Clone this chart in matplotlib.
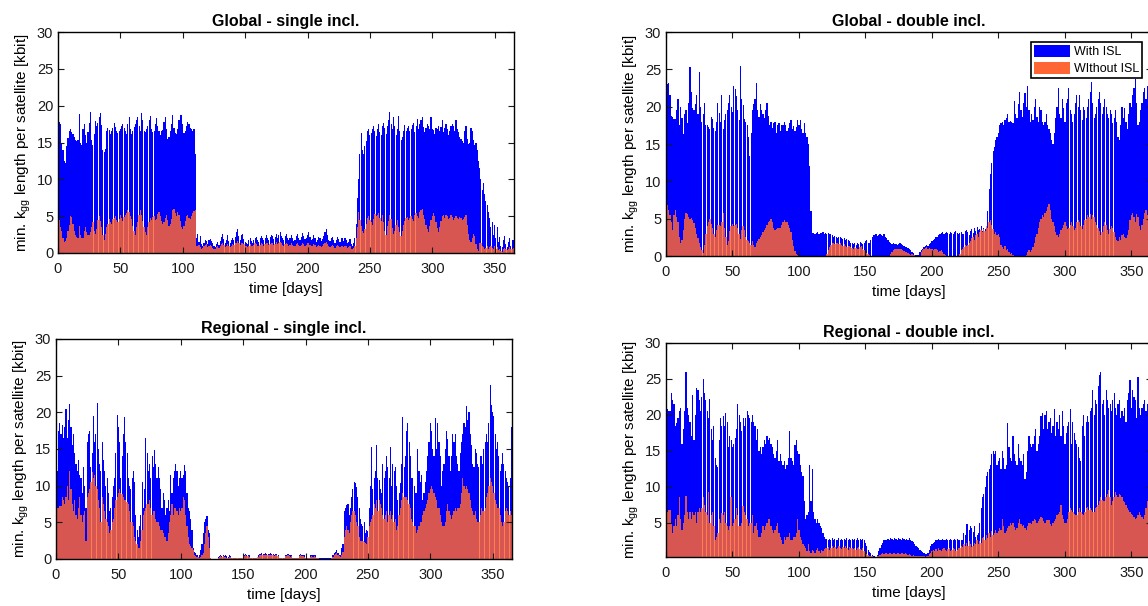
"""Minimum k_gg length per satellite, with and without ISL"""

import numpy as np
import matplotlib
matplotlib.use('Agg')
import matplotlib.pyplot as plt
from matplotlib.patches import Patch

plt.rcParams['font.family'] = ['Liberation Sans', 'DejaVu Sans']
plt.rcParams['mathtext.fontset'] = 'custom'
plt.rcParams['mathtext.rm'] = 'Liberation Sans'
plt.rcParams['mathtext.it'] = 'Liberation Sans:italic'

# ___ data (kbit per day) ___
days = np.arange(1, 366)

global_single_with = [
    17.8, 17.5, 15.0, 14.0, 12.5, 12.2, 14.5, 15.6, 16.6, 16.9,
    16.4, 16.1, 15.8, 15.4, 15.2, 15.3, 18.9, 15.0, 14.6, 16.8,
    17.5, 16.0, 14.9, 16.4, 17.6, 19.1, 15.4, 14.7, 16.1, 17.9,
    17.2, 17.6, 18.5, 19.0, 17.4, 14.0, 13.7, 14.1, 16.5, 17.0,
    16.7, 16.2, 16.5, 17.0, 17.6, 17.1, 16.6, 16.3, 16.5, 16.9,
    17.3, 17.5, 17.0, 16.5, 16.2, 17.5, 18.5, 16.8, 16.2, 16.5,
    17.1, 17.5, 18.0, 18.4, 17.3, 16.5, 19.0, 18.0, 16.5, 16.4,
    16.9, 17.3, 18.0, 18.6, 16.8, 16.4, 16.6, 17.5, 18.3, 17.2,
    16.5, 16.0, 16.5, 16.7, 17.8, 18.4, 16.8, 15.5, 15.8, 16.5,
    17.5, 18.8, 17.0, 16.3, 16.2, 16.8, 18.0, 18.8, 18.8, 17.5,
    16.3, 16.5, 17.2, 17.8, 17.5, 17.0, 16.8, 16.6, 16.8, 13.5,
    2.0, 2.6, 1.5, 2.3, 1.2, 1.0, 1.4, 1.8, 1.6, 1.2,
    1.7, 1.9, 1.6, 1.3, 1.0, 0.8, 1.2, 1.5, 1.1, 1.6,
    2.2, 2.6, 1.9, 1.4, 1.8, 2.4, 1.6, 1.3, 1.7, 2.0,
    1.8, 2.2, 2.8, 3.3, 2.3, 1.7, 2.4, 2.6, 1.9, 1.5,
    1.4, 1.2, 1.8, 2.1, 1.6, 1.3, 1.7, 2.0, 2.2, 1.8,
    1.5, 2.0, 2.3, 2.0, 1.7, 2.1, 2.4, 2.1, 1.8, 2.2,
    2.5, 2.3, 1.9, 2.2, 2.6, 2.0, 2.4, 2.8, 2.3, 2.0,
    1.8, 2.3, 2.6, 2.1, 1.7, 2.0, 2.4, 2.0, 1.6, 1.8,
    2.3, 2.6, 2.0, 1.7, 2.2, 2.7, 2.3, 1.9, 2.1, 2.5,
    2.8, 2.2, 1.7, 1.9, 2.4, 2.1, 1.5, 1.8, 2.2, 2.0,
    1.6, 1.9, 2.3, 2.9, 3.2, 2.4, 1.8, 1.6, 2.0, 2.2,
    1.7, 1.4, 1.8, 2.2, 1.9, 1.5, 2.1, 2.0, 1.6, 2.1,
    1.8, 1.3, 1.5, 1.9, 1.2, 1.0, 1.4, 2.0, 4.0, 7.5,
    10.0, 13.5, 16.3, 14.0, 13.5, 14.5, 15.2, 16.5, 16.9, 16.0,
    16.3, 16.8, 17.2, 16.5, 15.9, 16.8, 17.5, 16.4, 16.0, 17.2,
    17.6, 17.0, 16.2, 17.2, 18.0, 19.1, 17.5, 16.8, 18.5, 17.2,
    16.0, 16.8, 18.6, 16.5, 15.4, 15.8, 16.5, 17.4, 16.6, 17.0,
    17.3, 16.5, 16.8, 17.4, 17.6, 16.4, 17.3, 18.2, 16.8, 17.5,
    18.1, 18.5, 17.1, 16.4, 17.0, 17.5, 17.2, 16.8, 18.5, 16.9,
    16.7, 16.2, 17.0, 16.8, 17.3, 16.5, 17.1, 18.0, 16.4, 17.0,
    17.5, 16.8, 16.0, 16.5, 17.2, 17.5, 17.2, 16.6, 18.0, 16.8,
    16.4, 15.8, 15.5, 15.2, 15.0, 16.5, 17.2, 15.5, 14.8, 15.0,
    17.0, 16.5, 15.3, 14.7, 15.0, 14.0, 12.5, 11.5, 10.0, 8.5,
    9.5, 8.0, 7.0, 6.5, 5.5, 4.8, 3.5, 4.2, 2.5, 3.8,
    2.0, 3.5, 1.5, 2.2, 1.0, 0.8, 1.8, 2.3, 1.2, 0.8,
    1.5, 2.0, 1.0, 1.7, 1.8,
]

global_single_without = [
    4.5, 3.5, 3.0, 2.0, 1.5, 1.6, 2.0, 3.0, 3.8, 5.0,
    4.9, 4.0, 3.0, 2.4, 2.2, 2.1, 3.7, 2.5, 2.0, 2.0,
    3.0, 3.5, 2.8, 2.4, 2.5, 2.9, 3.5, 4.2, 3.0, 2.6,
    3.2, 4.5, 5.0, 4.4, 3.5, 2.5, 1.8, 2.6, 3.5, 4.0,
    4.6, 4.2, 4.0, 4.6, 4.8, 5.0, 4.5, 4.2, 4.6, 5.2,
    4.7, 4.4, 4.9, 5.2, 5.4, 5.8, 5.5, 5.0, 4.6, 3.6,
    3.0, 2.4, 3.5, 4.2, 5.2, 5.9, 5.2, 4.4, 3.5, 2.8,
    2.5, 3.5, 4.2, 4.7, 4.5, 4.9, 5.0, 4.5, 4.6, 5.3,
    5.5, 5.0, 4.4, 3.9, 4.2, 4.8, 5.1, 4.5, 3.6, 3.9,
    4.6, 5.8, 6.0, 5.4, 5.0, 5.6, 5.2, 4.4, 3.5, 3.2,
    3.6, 4.4, 5.0, 5.2, 4.8, 4.6, 5.0, 5.4, 5.7, 5.9,
    1.0, 0.9, 1.1, 0.8, 0.6, 0.7, 0.9, 1.1, 1.2, 0.8,
    0.9, 1.1, 1.0, 0.7, 0.5, 0.5, 0.8, 1.0, 0.7, 0.9,
    1.2, 1.3, 1.1, 0.8, 1.0, 1.2, 0.9, 0.8, 1.0, 1.2,
    1.1, 1.3, 1.4, 1.6, 1.3, 1.1, 1.3, 1.4, 1.2, 1.0,
    0.9, 0.8, 1.0, 1.2, 1.0, 0.9, 1.1, 1.3, 1.2, 1.0,
    0.9, 1.1, 1.3, 1.2, 1.0, 1.2, 1.4, 1.3, 1.1, 1.2,
    1.4, 1.3, 1.1, 1.2, 1.5, 1.2, 1.3, 1.5, 1.3, 1.1,
    1.0, 1.2, 1.4, 1.2, 1.0, 1.1, 1.3, 1.1, 0.9, 1.0,
    1.2, 1.4, 1.1, 0.9, 1.1, 1.3, 1.2, 1.0, 1.1, 1.3,
    1.4, 1.1, 0.9, 1.0, 1.2, 1.1, 0.8, 0.9, 1.1, 1.0,
    0.8, 1.0, 1.2, 1.4, 1.5, 1.2, 0.9, 0.8, 1.0, 1.1,
    0.9, 0.7, 0.9, 1.1, 1.0, 0.8, 1.0, 0.9, 0.8, 1.0,
    0.9, 0.7, 0.8, 0.9, 0.6, 0.5, 0.7, 1.0, 2.0, 3.5,
    5.5, 4.5, 3.6, 3.0, 2.7, 3.2, 4.0, 4.8, 5.0, 4.5,
    4.2, 3.8, 4.6, 5.3, 5.0, 5.2, 5.4, 4.8, 4.3, 5.1,
    4.2, 3.0, 2.5, 3.6, 4.4, 5.2, 4.6, 3.4, 2.6, 3.0,
    3.8, 4.5, 3.5, 2.8, 2.3, 3.0, 3.8, 4.4, 4.7, 4.9,
    4.5, 4.8, 5.0, 4.6, 4.3, 5.2, 5.4, 5.0, 4.7, 5.5,
    5.8, 6.0, 5.2, 4.6, 3.8, 3.2, 2.8, 3.6, 4.5, 5.0,
    5.4, 5.0, 4.2, 3.4, 2.9, 3.5, 4.4, 5.0, 5.1, 4.8,
    5.2, 5.0, 4.6, 4.8, 5.1, 4.9, 4.5, 4.7, 5.0, 4.8,
    4.6, 4.9, 4.8, 4.5, 4.6, 4.9, 5.1, 3.8, 2.6, 1.8,
    1.5, 2.0, 2.6, 2.3, 1.2, 0.5, 0.3, 1.3, 1.4, 1.0,
    0.8, 0.6, 0.7, 1.0, 0.6, 0.8, 1.0, 0.7, 0.5, 0.9,
    0.6, 0.8, 0.4, 0.6, 0.3, 0.2, 0.5, 0.7, 0.6, 0.4,
    0.5, 0.8, 0.5, 0.6, 0.7,
]

global_double_with = [
    23.0, 23.2, 21.5, 18.8, 18.6, 18.4, 18.3, 19.5, 21.0, 17.5,
    20.0, 18.5, 16.3, 19.0, 19.5, 17.8, 20.5, 25.3, 22.0, 19.8,
    19.6, 20.3, 21.5, 19.0, 24.7, 20.0, 18.0, 19.0, 20.5, 17.5,
    17.6, 17.3, 17.0, 18.6, 18.3, 17.1, 16.8, 18.0, 20.5, 19.2,
    18.0, 21.5, 17.0, 18.2, 19.0, 19.6, 20.5, 21.5, 20.0, 19.3,
    22.8, 22.3, 21.4, 19.5, 18.2, 25.4, 21.0, 20.2, 18.4, 18.0,
    17.5, 16.0, 13.4, 16.5, 19.5, 20.3, 21.0, 23.2, 19.5, 18.6,
    20.3, 19.6, 19.0, 18.5, 19.5, 20.5, 18.8, 17.6, 18.0, 17.2,
    17.8, 18.0, 16.5, 17.5, 17.8, 16.8, 17.5, 17.6, 18.0, 17.6,
    16.8, 17.2, 17.8, 18.2, 17.0, 17.4, 16.8, 17.3, 18.2, 17.6,
    18.2, 17.0, 16.5, 17.8, 16.5, 16.0, 15.0, 12.0, 6.0, 3.1,
    3.1, 3.0, 3.1, 3.2, 3.0, 3.1, 3.1, 3.2, 3.0, 3.1,
    3.0, 3.1, 2.9, 3.0, 2.8, 2.6, 2.7, 2.5, 2.4, 2.6,
    2.5, 2.4, 2.3, 2.4, 2.2, 2.3, 2.1, 2.0, 1.8, 1.7,
    1.6, 1.8, 1.5, 1.7, 1.6, 1.9, 1.8, 1.6, 1.7, 2.0,
    2.1, 1.8, 1.7, 2.2, 2.6, 2.8, 2.8, 2.9, 2.7, 2.8,
    2.9, 2.8, 2.7, 2.9, 2.6, 2.4, 2.2, 1.9, 1.7, 1.6,
    1.7, 1.6, 1.6, 1.5, 1.6, 1.7, 1.6, 1.5, 1.3, 1.2,
    1.2, 1.1, 0.9, 0.8, 0.6, 0.4, 0.2, 0.1, 0.1, 0.2,
    0.5, 0.8, 1.0, 1.2, 1.3, 1.5, 1.4, 1.6, 1.8, 2.0,
    2.1, 2.3, 2.5, 2.6, 2.8, 3.0, 3.1, 3.2, 3.0, 3.1,
    3.2, 3.1, 3.0, 3.2, 3.1, 3.0, 3.2, 3.3, 3.1, 3.0,
    3.1, 3.2, 3.0, 2.9, 3.3, 3.5, 3.2, 2.8, 3.4, 3.6,
    3.1, 3.7, 3.3, 3.9, 3.5, 3.6, 4.0, 3.4, 3.8, 3.6,
    3.8, 6.0, 9.0, 11.0, 12.5, 14.0, 14.6, 15.5, 16.0, 16.5,
    17.5, 17.8, 18.0, 17.6, 18.2, 18.5, 19.0, 17.9, 18.1, 18.0,
    17.8, 20.8, 19.0, 18.5, 20.3, 22.0, 19.5, 18.6, 20.5, 21.8,
    20.0, 22.8, 19.5, 18.0, 19.0, 18.2, 20.0, 21.0, 18.6, 18.0,
    20.0, 19.5, 18.0, 17.6, 18.0, 19.0, 17.5, 17.0, 16.5, 15.5,
    15.0, 16.5, 18.5, 20.0, 22.5, 19.0, 18.5, 21.0, 19.8, 18.0,
    20.5, 21.0, 22.5, 19.5, 19.0, 18.0, 19.0, 20.5, 21.5, 20.0,
    21.5, 19.5, 18.2, 20.0, 19.5, 18.5, 20.0, 21.0, 22.0, 23.3,
    20.5, 18.5, 19.0, 20.0, 21.0, 22.0, 20.5, 19.0, 20.0, 21.0,
    20.0, 19.0, 18.5, 19.5, 19.0, 17.8, 18.5, 19.5, 18.0, 16.0,
    15.5, 17.5, 20.0, 18.5, 19.8, 18.0, 17.0, 19.0, 20.5, 20.0,
    21.5, 22.5, 23.7, 20.5, 17.5, 18.0, 19.5, 20.5, 22.0, 22.5,
    21.0, 22.8, 21.5, 20.5, 22.0,
]

global_double_without = [
    6.8, 6.2, 5.5, 4.5, 3.5, 5.5, 6.2, 5.2, 4.5, 2.5,
    1.8, 2.2, 3.5, 5.0, 5.8, 5.6, 5.2, 5.0, 5.1, 4.8,
    4.4, 3.8, 3.0, 2.4, 1.8, 1.2, 0.8, 0.4, 1.5, 3.0,
    4.0, 4.5, 5.0, 4.3, 3.8, 3.0, 2.5, 3.5, 4.1, 4.2,
    4.0, 4.5, 5.7, 3.8, 2.5, 1.5, 2.0, 3.4, 4.0, 4.3,
    4.0, 4.2, 4.3, 3.7, 3.0, 2.3, 3.5, 4.0, 3.5, 2.6,
    2.2, 2.0, 1.8, 1.5, 2.0, 1.5, 1.2, 1.8, 2.0, 2.3,
    2.5, 2.8, 3.2, 3.5, 3.8, 4.2, 4.5, 4.7, 5.0, 4.5,
    3.8, 3.5, 3.6, 3.7, 3.8, 3.7, 4.2, 4.6, 4.8, 4.6,
    4.5, 4.2, 3.8, 3.2, 2.2, 1.4, 0.7, 0.3, 0.1, 0.0,
    0.0, 0.0, 0.0, 0.0, 0.0, 0.0, 0.0, 0.0, 0.0, 0.0,
    0.0, 0.0, 0.0, 0.0, 0.0, 0.0, 0.0, 0.0, 0.0, 0.0,
    0.3, 0.8, 1.2, 1.5, 1.7, 1.8, 1.6, 1.7, 1.8, 1.6,
    1.7, 1.5, 1.4, 1.6, 1.3, 1.2, 1.4, 1.3, 1.2, 1.1,
    1.0, 1.2, 1.1, 0.9, 1.0, 1.2, 1.3, 1.0, 0.8, 0.6,
    0.4, 0.3, 0.2, 0.0, 0.0, 0.0, 0.0, 0.0, 0.0, 0.0,
    0.0, 0.0, 0.0, 0.0, 0.0, 0.0, 0.0, 0.0, 0.3, 0.6,
    0.8, 0.9, 1.0, 1.0, 0.9, 1.0, 0.9, 0.8, 0.7, 0.6,
    0.5, 0.4, 0.3, 0.2, 0.3, 0.2, 0.1, 0.0, 0.0, 0.0,
    0.0, 0.6, 0.8, 1.0, 1.1, 1.2, 1.0, 1.1, 0.9, 1.0,
    0.8, 1.0, 0.9, 0.8, 0.6, 0.7, 0.8, 0.5, 0.3, 0.2,
    0.0, 0.0, 0.0, 0.0, 0.0, 0.0, 0.0, 0.0, 0.0, 0.0,
    0.3, 0.8, 1.0, 1.2, 1.5, 1.3, 1.5, 1.8, 2.0, 2.4,
    2.6, 2.2, 2.8, 3.0, 2.6, 3.2, 3.5, 3.2, 3.6, 3.3,
    4.0, 3.8, 4.5, 4.8, 4.2, 3.6, 3.0, 3.2, 2.8, 3.0,
    2.5, 1.5, 1.2, 1.0, 1.4, 0.8, 1.0, 0.5, 0.3, 0.4,
    0.2, 0.0, 0.0, 0.0, 0.0, 0.0, 0.0, 0.0, 0.0, 0.0,
    0.2, 0.5, 0.8, 0.6, 0.8, 1.2, 1.8, 2.5, 3.0, 3.8,
    4.5, 5.0, 5.5, 5.2, 5.8, 6.0, 6.5, 7.0, 6.2, 5.0,
    4.5, 4.0, 3.2, 2.8, 2.5, 3.0, 3.5, 3.8, 4.2, 4.5,
    4.0, 3.6, 3.8, 4.2, 4.5, 4.0, 3.5, 3.8, 4.5, 4.8,
    4.5, 4.0, 3.6, 4.2, 4.8, 5.0, 5.5, 5.2, 5.6, 5.0,
    5.5, 5.2, 4.6, 4.2, 3.8, 3.4, 2.8, 3.2, 4.0, 4.5,
    4.2, 3.5, 3.0, 3.6, 4.0, 3.8, 3.2, 2.5, 2.2, 2.0,
    2.5, 2.2, 2.8, 3.0, 2.6, 2.4, 2.8, 3.5, 4.8, 5.5,
    5.8, 5.2, 4.5, 5.6, 5.2, 4.0, 3.5, 4.2, 5.0, 5.8,
    6.2, 5.5, 6.0, 5.8, 6.0,
]

regional_single_with = [
    12.0, 17.5, 18.5, 17.0, 18.3, 16.5, 18.0, 20.5, 16.5, 19.0,
    21.2, 18.0, 15.5, 17.0, 14.5, 13.0, 12.0, 13.5, 11.5, 11.0,
    9.0, 12.5, 10.0, 7.0, 16.0, 17.0, 17.5, 12.5, 14.5, 19.5,
    16.0, 17.0, 21.3, 15.0, 13.0, 12.0, 16.0, 13.5, 12.0, 10.0,
    11.0, 9.0, 6.5, 7.0, 8.5, 10.0, 11.0, 14.5, 19.6, 18.0,
    16.0, 11.0, 14.0, 17.0, 19.3, 16.0, 14.5, 11.0, 10.0, 9.5,
    11.0, 12.0, 10.5, 6.0, 4.0, 3.0, 4.5, 6.0, 10.5, 7.0,
    9.5, 16.5, 14.5, 12.0, 13.0, 11.0, 14.0, 12.5, 14.8, 13.0,
    11.0, 12.5, 11.0, 9.5, 7.0, 9.0, 8.0, 6.0, 7.0, 8.0,
    6.5, 11.5, 9.0, 11.0, 12.0, 13.0, 12.0, 10.0, 11.0, 12.0,
    11.0, 11.5, 12.8, 12.0, 9.0, 7.0, 6.5, 5.5, 4.0, 1.5,
    1.0, 0.8, 0.5, 0.3, 0.6, 1.2, 2.0, 3.5, 5.0, 5.5,
    5.8, 4.0, 3.5, 0.2, 0.0, 0.0, 0.0, 0.0, 0.0, 0.3,
    0.4, 0.5, 0.4, 0.5, 0.4, 0.5, 0.4, 0.3, 0.5, 0.4,
    0.2, 0.2, 0.1, 0.2, 0.2, 0.1, 0.2, 0.2, 0.2, 0.6,
    0.6, 0.7, 0.6, 0.6, 0.5, 0.2, 0.2, 0.1, 0.2, 0.2,
    0.2, 0.5, 0.7, 0.7, 0.8, 0.7, 0.7, 0.8, 0.7, 0.7,
    0.7, 0.8, 0.7, 0.7, 0.6, 0.7, 0.7, 0.6, 0.2, 0.2,
    0.2, 0.1, 0.2, 0.6, 0.6, 0.7, 0.6, 0.5, 0.6, 0.2,
    0.2, 0.1, 0.2, 0.2, 0.6, 0.7, 0.6, 0.6, 0.5, 0.2,
    0.2, 0.1, 0.2, 0.5, 0.6, 0.5, 0.6, 0.5, 0.2, 0.1,
    0.1, 0.1, 0.1, 0.1, 0.1, 0.1, 0.1, 0.1, 0.1, 0.1,
    0.2, 0.5, 0.8, 1.0, 1.2, 0.8, 0.6, 0.5, 1.5, 2.0,
    6.5, 7.0, 7.3, 7.5, 6.0, 7.0, 8.5, 9.5, 10.5, 10.3,
    9.8, 8.5, 7.0, 5.5, 4.8, 4.5, 5.0, 3.5, 4.0, 3.8,
    7.0, 10.0, 15.3, 9.5, 11.0, 12.0, 15.5, 11.0, 10.8, 9.5,
    9.0, 13.0, 11.0, 12.0, 14.0, 12.5, 11.0, 15.3, 10.0, 13.0,
    12.0, 12.5, 10.0, 8.0, 9.0, 10.3, 13.0, 19.3, 12.5, 14.0,
    17.5, 18.5, 16.0, 14.0, 11.0, 11.0, 10.0, 9.0, 9.0, 15.0,
    12.0, 10.5, 11.5, 8.0, 9.0, 10.5, 12.0, 14.0, 16.0, 18.5,
    17.5, 15.0, 14.0, 19.2, 15.0, 18.5, 16.0, 14.0, 10.0, 12.0,
    13.0, 15.0, 17.5, 16.3, 14.0, 12.0, 14.0, 17.0, 16.0, 17.0,
    14.0, 13.0, 12.0, 14.5, 16.0, 17.0, 18.5, 18.0, 20.9, 19.0,
    20.0, 17.0, 15.5, 13.0, 12.5, 15.0, 14.5, 13.0, 12.5, 14.0,
    14.0, 13.0, 15.0, 16.0, 17.0, 16.0, 18.5, 23.7, 21.0, 20.0,
    19.5, 17.0, 15.0, 16.0, 14.0, 12.0, 13.0, 14.5, 13.0, 12.0,
    11.0, 10.5, 10.0, 11.0, 18.0,
]

regional_single_without = [
    7.0, 7.0, 7.2, 7.2, 8.5, 8.0, 7.5, 8.5, 10.0, 8.0,
    12.0, 9.5, 7.5, 6.5, 8.0, 6.0, 5.5, 7.0, 8.5, 6.0,
    5.0, 6.0, 6.5, 2.5, 8.5, 9.0, 9.5, 10.5, 11.8, 11.0,
    11.5, 10.0, 9.5, 8.0, 7.0, 5.0, 8.5, 7.5, 6.5, 5.5,
    5.0, 4.5, 3.5, 4.0, 5.0, 5.5, 7.0, 8.0, 8.5, 9.0,
    9.5, 9.0, 8.8, 8.5, 8.0, 8.0, 7.8, 7.5, 6.5, 5.0,
    5.0, 4.5, 3.0, 2.5, 2.0, 1.5, 1.5, 2.5, 4.0, 6.0,
    6.5, 7.0, 7.5, 7.5, 8.0, 7.0, 6.0, 6.5, 6.5, 5.5,
    5.0, 5.0, 4.5, 4.0, 4.0, 3.5, 3.0, 3.0, 2.5, 3.5,
    5.0, 6.0, 7.5, 6.0, 7.0, 7.0, 6.5, 6.0, 7.0, 6.5,
    7.0, 8.5, 8.0, 6.0, 4.5, 3.0, 2.0, 1.8, 1.5, 1.2,
    0.5, 0.4, 0.3, 0.3, 0.2, 0.3, 0.5, 0.8, 2.0, 3.5,
    4.5, 3.0, 1.5, 0.2, 0.0, 0.0, 0.0, 0.0, 0.0, 0.2,
    0.3, 0.4, 0.3, 0.4, 0.3, 0.3, 0.2, 0.2, 0.3, 0.3,
    0.1, 0.1, 0.1, 0.1, 0.1, 0.1, 0.1, 0.1, 0.1, 0.4,
    0.4, 0.5, 0.4, 0.4, 0.3, 0.1, 0.1, 0.1, 0.1, 0.1,
    0.1, 0.3, 0.5, 0.5, 0.6, 0.5, 0.5, 0.6, 0.5, 0.5,
    0.5, 0.6, 0.5, 0.5, 0.4, 0.5, 0.5, 0.4, 0.1, 0.1,
    0.1, 0.1, 0.1, 0.4, 0.4, 0.5, 0.4, 0.3, 0.4, 0.1,
    0.1, 0.1, 0.1, 0.1, 0.4, 0.5, 0.4, 0.4, 0.3, 0.1,
    0.1, 0.1, 0.1, 0.3, 0.4, 0.3, 0.4, 0.3, 0.1, 0.1,
    0.0, 0.0, 0.0, 0.0, 0.0, 0.0, 0.0, 0.0, 0.0, 0.0,
    0.1, 0.3, 0.5, 0.7, 0.8, 0.5, 0.4, 0.3, 0.5, 1.0,
    3.0, 4.0, 4.5, 4.0, 3.5, 5.0, 6.0, 6.5, 6.5, 6.0,
    5.0, 4.5, 3.0, 2.5, 2.5, 2.5, 2.3, 2.2, 2.0, 3.0,
    4.5, 5.0, 5.5, 6.0, 7.5, 7.0, 8.0, 6.5, 8.0, 7.5,
    7.0, 6.0, 5.5, 6.0, 6.5, 5.0, 6.0, 6.5, 5.5, 6.0,
    5.0, 5.5, 4.0, 4.5, 6.0, 7.0, 8.0, 9.0, 8.5, 8.5,
    8.5, 8.0, 7.5, 7.0, 5.5, 5.0, 4.5, 4.5, 3.5, 4.0,
    4.5, 5.0, 5.0, 6.0, 6.5, 7.0, 7.5, 8.0, 9.0, 9.5,
    10.0, 9.5, 9.0, 8.5, 8.0, 7.0, 7.0, 6.0, 5.0, 4.5,
    4.5, 5.0, 6.5, 7.5, 6.5, 6.0, 5.5, 6.0, 6.5, 7.0,
    6.5, 7.0, 7.0, 7.5, 9.0, 11.0, 10.0, 9.5, 10.0, 9.5,
    9.0, 8.0, 7.0, 6.5, 6.0, 6.5, 5.5, 5.0, 5.0, 6.0,
    7.0, 6.5, 6.5, 7.0, 8.5, 9.0, 10.0, 11.0, 10.5, 10.0,
    9.0, 8.0, 7.5, 7.0, 7.0, 6.0, 5.0, 4.5, 5.0, 6.5,
    7.0, 6.5, 6.0, 6.5, 6.0,
]

regional_double_with = [
    20.8, 20.6, 20.5, 23.0, 22.0, 21.5, 18.5, 18.8, 19.5, 20.5,
    21.0, 16.0, 18.0, 20.5, 26.0, 21.0, 20.0, 19.0, 17.0, 22.8,
    16.5, 20.0, 23.8, 23.5, 22.0, 20.5, 22.5, 25.0, 23.0, 22.0,
    20.5, 19.5, 22.2, 18.0, 16.5, 18.5, 14.0, 13.0, 12.8, 16.5,
    19.5, 18.5, 19.8, 18.5, 20.3, 19.0, 15.5, 17.0, 16.5, 15.5,
    16.0, 16.8, 18.0, 21.5, 20.0, 19.0, 17.8, 19.5, 18.5, 19.5,
    20.5, 20.0, 19.5, 19.0, 20.0, 19.0, 18.5, 16.5, 18.0, 15.0,
    15.5, 14.5, 15.5, 16.5, 16.0, 17.0, 16.5, 16.8, 16.0, 15.5,
    14.5, 14.0, 15.0, 16.5, 13.5, 14.5, 13.5, 13.0, 13.5, 12.5,
    13.0, 14.0, 17.8, 14.0, 13.5, 13.0, 15.8, 16.5, 15.0, 14.5,
    13.0, 12.0, 11.5, 8.0, 5.5, 6.0, 6.5, 13.0, 8.0, 12.5,
    6.5, 5.5, 5.0, 5.5, 5.0, 4.5, 4.2, 3.5, 3.0, 2.7,
    2.7, 2.6, 2.7, 2.5, 2.8, 2.6, 2.7, 2.5, 2.6, 2.8,
    2.6, 2.7, 2.5, 2.7, 2.6, 2.8, 2.5, 2.7, 2.6, 2.7,
    2.6, 2.7, 2.5, 2.8, 2.6, 2.7, 2.6, 2.7, 2.5, 2.2,
    1.7, 1.2, 0.9, 0.7, 0.5, 0.4, 0.3, 0.2, 0.5, 1.0,
    1.5, 1.9, 2.2, 2.5, 2.5, 2.6, 2.7, 2.6, 2.8, 2.7,
    2.6, 2.8, 2.7, 2.6, 2.8, 2.7, 2.6, 2.8, 2.7, 2.6,
    2.7, 2.6, 2.8, 2.5, 2.4, 2.3, 2.0, 1.8, 1.6, 1.5,
    1.2, 1.0, 0.9, 0.8, 0.6, 0.6, 0.8, 1.2, 1.7, 2.0,
    2.2, 2.3, 2.6, 2.5, 2.7, 2.6, 2.5, 2.7, 2.6, 2.5,
    2.7, 2.6, 2.5, 2.7, 2.6, 2.5, 2.7, 2.6, 2.7, 2.5,
    2.6, 2.5, 2.5, 3.5, 3.2, 4.8, 4.8, 4.0, 4.5, 4.2,
    3.7, 4.5, 3.0, 3.2, 3.5, 5.0, 7.0, 8.5, 9.0, 10.0,
    11.5, 12.0, 12.5, 13.0, 14.5, 15.0, 14.5, 15.0, 13.0, 13.5,
    14.0, 12.5, 15.0, 14.0, 12.5, 13.0, 18.8, 15.5, 14.0, 13.5,
    17.0, 14.5, 13.5, 13.0, 16.0, 14.0, 13.5, 13.0, 14.5, 11.0,
    12.0, 15.0, 17.0, 16.0, 15.5, 16.0, 17.0, 18.0, 15.0, 16.0,
    17.0, 19.8, 20.3, 18.0, 20.0, 20.5, 18.0, 19.0, 19.5, 17.5,
    18.5, 20.8, 17.0, 19.0, 18.0, 20.0, 17.0, 20.5, 18.5, 16.0,
    17.5, 18.5, 19.0, 20.8, 16.0, 19.0, 17.5, 16.5, 16.0, 15.5,
    14.0, 13.5, 18.5, 20.0, 17.0, 19.0, 19.8, 19.0, 20.5, 21.0,
    23.5, 20.0, 22.0, 21.5, 24.0, 25.5, 26.0, 21.5, 22.0, 20.0,
    23.5, 22.0, 21.0, 21.5, 20.5, 22.0, 23.0, 21.0, 20.0, 21.5,
    22.0, 19.5, 20.5, 19.8, 21.0, 19.0, 22.0, 23.0, 24.8, 21.0,
    23.5, 22.5, 22.0, 19.5, 25.2, 21.0, 20.0, 21.0, 21.5, 22.0,
    20.5, 21.5, 21.0, 21.5, 22.0,
]

regional_double_without = [
    6.5, 6.8, 6.7, 5.0, 3.5, 4.5, 5.5, 4.5, 6.0, 8.5,
    5.5, 4.0, 5.0, 6.0, 8.7, 6.5, 5.5, 6.5, 5.5, 6.5,
    6.0, 6.5, 5.0, 6.5, 7.0, 6.5, 7.0, 8.5, 7.5, 6.5,
    6.0, 9.3, 5.0, 6.0, 6.5, 4.5, 2.5, 3.0, 3.5, 5.5,
    5.0, 6.3, 6.0, 6.5, 5.0, 4.5, 4.0, 4.5, 8.5, 4.5,
    5.0, 5.5, 7.0, 6.0, 4.5, 4.5, 5.0, 7.3, 6.5, 6.0,
    5.5, 4.5, 5.0, 5.0, 6.0, 3.5, 4.5, 5.0, 4.0, 3.0,
    3.0, 3.5, 4.5, 4.0, 4.5, 5.0, 5.5, 5.5, 4.5, 4.0,
    3.5, 4.0, 4.5, 5.0, 3.5, 3.0, 2.5, 2.0, 3.0, 2.5,
    3.0, 3.0, 3.5, 2.5, 2.5, 3.0, 3.0, 3.5, 5.5, 4.0,
    3.0, 2.5, 2.0, 1.8, 1.5, 1.0, 2.0, 1.0, 0.8, 1.2,
    1.0, 0.8, 1.2, 1.5, 1.0, 0.8, 1.2, 1.0, 1.3, 1.5,
    1.4, 1.6, 1.2, 1.5, 1.8, 1.4, 1.6, 1.3, 1.5, 1.7,
    1.5, 1.3, 1.6, 1.4, 1.8, 1.5, 1.2, 1.6, 1.4, 1.5,
    1.3, 1.5, 1.2, 1.4, 1.6, 1.3, 1.2, 1.4, 1.0, 0.8,
    0.6, 0.5, 0.4, 0.3, 0.3, 0.2, 0.2, 0.2, 0.3, 0.4,
    0.5, 0.6, 0.7, 0.6, 0.8, 0.7, 0.6, 0.8, 0.7, 0.6,
    0.8, 0.7, 0.6, 0.8, 0.7, 0.6, 0.8, 0.7, 0.6, 0.7,
    0.6, 0.5, 0.6, 0.5, 0.4, 0.5, 0.4, 0.3, 0.4, 0.3,
    0.3, 0.4, 0.3, 0.3, 0.2, 0.3, 0.4, 0.6, 0.8, 1.0,
    1.2, 1.0, 1.3, 1.1, 1.4, 1.2, 1.0, 1.3, 1.5, 1.2,
    1.0, 1.3, 1.4, 1.1, 1.2, 1.5, 1.3, 1.0, 1.2, 1.4,
    1.5, 1.8, 1.6, 2.0, 1.7, 2.2, 1.8, 2.4, 2.0, 1.6,
    1.8, 2.2, 2.0, 2.5, 2.0, 2.4, 2.2, 2.8, 3.0, 2.5,
    3.2, 2.8, 3.5, 3.0, 3.8, 3.2, 3.5, 4.0, 3.5, 3.8,
    4.2, 4.0, 5.5, 4.5, 3.5, 3.8, 4.2, 4.5, 5.0, 4.6,
    5.0, 4.4, 4.0, 4.2, 5.0, 5.5, 4.8, 4.5, 4.6, 4.2,
    4.0, 4.5, 5.0, 5.0, 4.8, 5.2, 5.5, 5.3, 5.0, 5.2,
    5.5, 5.8, 5.6, 5.2, 5.0, 5.4, 5.3, 5.3, 4.8, 4.5,
    5.0, 5.2, 5.5, 6.0, 6.2, 6.5, 7.5, 6.0, 5.5, 5.0,
    5.0, 5.5, 6.5, 7.0, 6.8, 6.5, 6.2, 6.0, 6.0, 6.5,
    7.0, 6.5, 6.2, 6.0, 6.5, 7.0, 7.2, 6.8, 7.0, 6.8,
    6.5, 6.5, 7.0, 7.2, 7.5, 8.0, 8.5, 8.2, 8.0, 8.0,
    8.5, 9.0, 9.5, 8.5, 7.5, 8.0, 8.5, 9.3, 8.8, 8.5,
    9.0, 8.8, 8.5, 8.0, 7.8, 7.5, 7.0, 6.8, 6.5, 6.2,
    6.0, 5.8, 5.5, 5.6, 6.0, 6.5, 6.0, 5.8, 5.5, 6.0,
    7.0, 8.0, 8.2, 8.5, 8.0,
]

titles = ['Global - single incl.', 'Global - double incl.',
          'Regional - single incl.', 'Regional - double incl.']
legend_labels = ['With ISL', 'WIthout ISL']

BLUE = '#0000ff'
ORANGE = '#ff6633'
W, H = 1148, 606


def px_axes(fig, x0, y0, x1, y1):
    # axes from a pixel box (origin top left)
    return fig.add_axes([x0 / W, 1 - y1 / H, (x1 - x0) / W, (y1 - y0) / H])


def draw_panel(ax, with_isl, without_isl, title, ymin=0):
    ax.bar(days, with_isl, width=0.9, color=BLUE, linewidth=0)
    ax.bar(days, without_isl, width=1.0, color=ORANGE, alpha=0.85, linewidth=0)
    ax.set_xlim(0, 365.5)
    ax.set_ylim(ymin, 30)
    ax.set_xticks(np.arange(0, 351, 50))
    if ymin > 0:
        ax.set_yticks(np.arange(5, 31, 5))
    else:
        ax.set_yticks(np.arange(0, 31, 5))
    ax.tick_params(direction='in', top=True, right=True, length=4, width=0.8,
                   labelsize=10.5, colors='#1a1a1a')
    ax.tick_params(axis='x', pad=6.5)
    ax.tick_params(axis='y', pad=3.5)
    for s in ax.spines.values():
        s.set_linewidth(1.0)
        s.set_color('black')
    ax.set_title(title, fontsize=11.5, fontweight='bold', pad=4)
    ax.set_xlabel('time [days]', fontsize=11, labelpad=4.5)
    ax.set_ylabel(r'min. k$_{\mathrm{gg}}$ length per satellite [kbit]', fontsize=11, labelpad=3)


fig = plt.figure(figsize=(W / 100, H / 100), dpi=100)

ax1 = px_axes(fig, 58, 32, 514, 253)
draw_panel(ax1, global_single_with, global_single_without, titles[0])

ax2 = px_axes(fig, 666, 32, 1152, 256)
draw_panel(ax2, global_double_with, global_double_without, titles[1])
handles = [Patch(facecolor=BLUE, edgecolor='none'), Patch(facecolor=ORANGE, edgecolor='none')]
leg = ax2.legend(handles, legend_labels, loc='upper right', bbox_to_anchor=(0.98, 0.957),
                 borderaxespad=0, fontsize=9, fancybox=False, framealpha=1,
                 handlelength=2.9, handleheight=1.1, handletextpad=0.3,
                 labelspacing=0.3, borderpad=0.25)
leg.get_frame().set_edgecolor('black')
leg.get_frame().set_linewidth(1.2)

ax3 = px_axes(fig, 56, 339, 512, 559)
draw_panel(ax3, regional_single_with, regional_single_without, titles[2])

ax4 = px_axes(fig, 666, 343, 1152, 557)
draw_panel(ax4, regional_double_with, regional_double_without, titles[3], ymin=0.2)

fig.savefig('out.png', dpi=100)
